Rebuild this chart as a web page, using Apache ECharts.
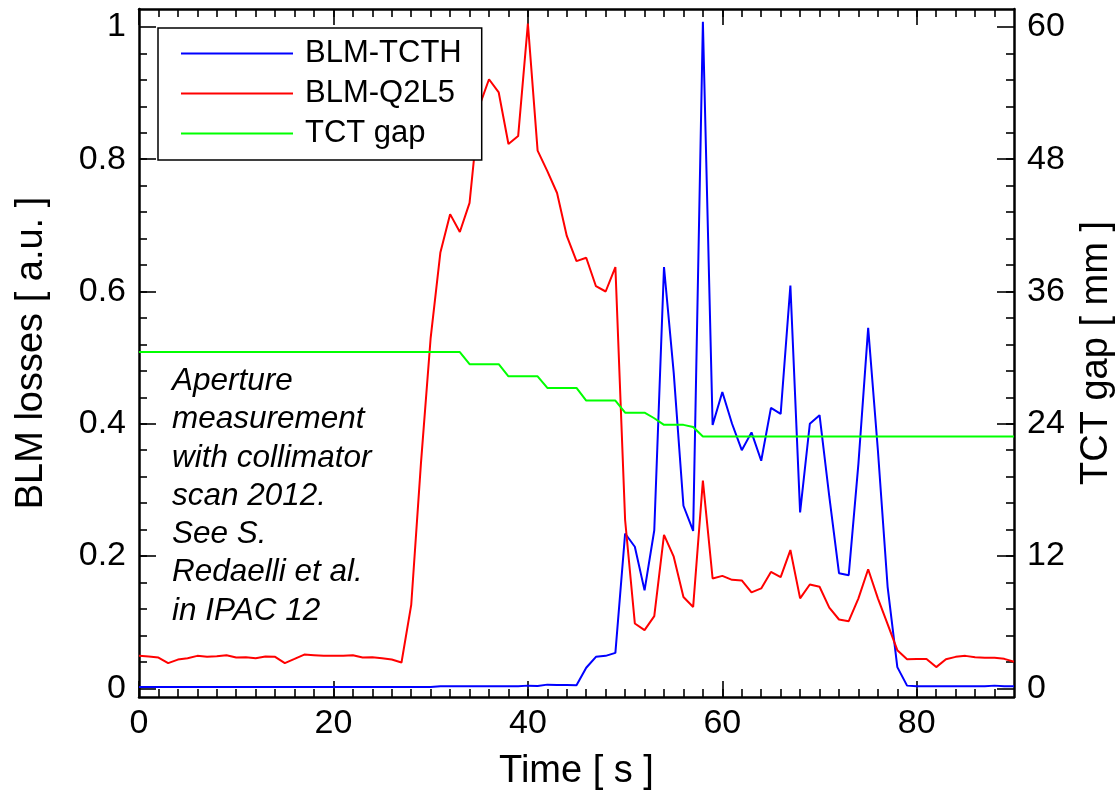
<!DOCTYPE html>
<html>
<head>
<meta charset="utf-8">
<script src="https://cdn.jsdelivr.net/npm/echarts@6/dist/echarts.min.js"></script>
<style>html,body{margin:0;padding:0;background:#fff;}#chart{width:1115px;height:800px;}</style>
</head>
<body>
<div id="chart"></div>
<script>
// Time [s]
const time = [0,1,2,3,4,5,6,7,8,9,10,11,12,13,14,15,16,17,18,19,20,21,22,23,24,25,26,27,28,29,30,31,32,33,34,35,36,37,38,39,40,41,42,43,44,45,46,47,48,49,50,51,52,53,54,55,56,57,58,59,60,61,62,63,64,65,66,67,68,69,70,71,72,73,74,75,76,77,78,79,80,81,82,83,84,85,86,87,88,89,90];
// BLM-TCTH losses [a.u.]
const blmTCTH = [0.002,0.002,0.002,0.002,0.002,0.002,0.002,0.002,0.002,0.002,0.002,0.002,0.002,0.002,0.002,0.002,0.002,0.002,0.002,0.002,0.002,0.002,0.002,0.002,0.002,0.002,0.002,0.002,0.002,0.002,0.002,0.003,0.003,0.003,0.003,0.003,0.003,0.003,0.003,0.003,0.004,0.0035,0.0055,0.005,0.005,0.0045,0.031,0.0475,0.049,0.0535,0.234,0.214,0.148,0.239,0.637,0.477,0.276,0.238,1.008,0.398,0.448,0.400,0.360,0.387,0.344,0.424,0.415,0.609,0.266,0.400,0.413,0.29,0.174,0.171,0.34,0.545,0.36,0.1535,0.032,0.004,0.003,0.003,0.003,0.003,0.003,0.003,0.003,0.003,0.004,0.003,0.003];
// BLM-Q2L5 losses [a.u.]
const blmQ2L5 = [0.049,0.048,0.0465,0.038,0.0434,0.0455,0.049,0.0475,0.0485,0.050,0.0465,0.047,0.0455,0.048,0.0475,0.038,0.0444,0.051,0.050,0.049,0.049,0.049,0.050,0.0465,0.047,0.0455,0.0434,0.039,0.126,0.34,0.53,0.659,0.717,0.690,0.734,0.88,0.921,0.901,0.823,0.835,1.005,0.813,0.782,0.749,0.684,0.646,0.651,0.608,0.600,0.637,0.2545,0.098,0.088,0.109,0.232,0.199,0.138,0.123,0.314,0.166,0.170,0.164,0.163,0.145,0.151,0.176,0.168,0.209,0.136,0.157,0.1535,0.122,0.104,0.1015,0.136,0.180,0.136,0.097,0.0576,0.044,0.0444,0.0444,0.032,0.044,0.0475,0.049,0.047,0.046,0.046,0.0445,0.040];
// TCT gap [mm]
const tctGap = [30.5,30.5,30.5,30.5,30.5,30.5,30.5,30.5,30.5,30.5,30.5,30.5,30.5,30.5,30.5,30.5,30.5,30.5,30.5,30.5,30.5,30.5,30.5,30.5,30.5,30.5,30.5,30.5,30.5,30.5,30.5,30.5,30.5,30.5,29.4,29.4,29.4,29.4,28.3,28.3,28.3,28.3,27.25,27.25,27.25,27.25,26.1,26.1,26.1,26.1,25.0,25.0,25.0,24.5,23.9,23.9,23.9,23.7,22.85,22.85,22.85,22.85,22.85,22.85,22.85,22.85,22.85,22.85,22.85,22.85,22.85,22.85,22.85,22.85,22.85,22.85,22.85,22.85,22.85,22.85,22.85,22.85,22.85,22.85,22.85,22.85,22.85,22.85,22.85,22.85,22.85];

const xMajorTicks = [0,20,40,60,80];
const yLeftMajorTicks = [0,0.2,0.4,0.6,0.8,1];
const yRightMajorTicks = [0,12,24,36,48,60];
const xMinorTicks = []; for (let i = 1; i < 45; i++) xMinorTicks.push(i*2);
const yLeftMinorTicks = []; for (let i = 1; i < 25; i++) yLeftMinorTicks.push(Math.round(i*4)/100);
const yRightMinorTicks = []; for (let i = 1; i < 25; i++) yRightMinorTicks.push(Math.round(i*24)/10);

const annotation = ['Aperture','measurement','with collimator','scan 2012.','See S.','Redaelli et al.','in IPAC 12'];

const FONT = '"Liberation Sans", Arial, Helvetica, sans-serif';
const yLMin = -0.0132, yLMax = 1.0272;
const yRMin = yLMin*60, yRMax = yLMax*60;

function pairs(y){ return time.map((t,i)=>[t,y[i]]); }

const lineAxis = {show:true, onZero:false, lineStyle:{color:'#000', width:2.5}};
const noLine = {show:false, onZero:false};
const labelStyle = {color:'#000', fontFamily:FONT, fontSize:34};
const nameStyle = {color:'#000', fontFamily:FONT, fontSize:38};

function xAx(pos, ticks, len, labels, line, extra){
  return Object.assign({type:'value', position:pos, min:0, max:90, gridIndex:0,
    axisLine: line ? lineAxis : noLine,
    axisTick:{show:true, inside:true, length:len, customValues:ticks, lineStyle:{color:'#000', width:1.6}},
    axisLabel: labels ? Object.assign({show:true, margin:10, customValues:ticks}, labelStyle) : {show:false},
    splitLine:{show:false}}, extra||{});
}
function yAx(pos, min, max, ticks, len, labels, line, extra){
  return Object.assign({type:'value', position:pos, min:min, max:max, gridIndex:0,
    axisLine: line ? lineAxis : noLine,
    axisTick:{show:true, inside:true, length:len, customValues:ticks, lineStyle:{color:'#000', width:1.6}},
    axisLabel: labels ? Object.assign({show:true, margin:13, customValues:ticks}, labelStyle) : {show:false},
    splitLine:{show:false}}, extra||{});
}

const chart = echarts.init(document.getElementById('chart'), null, {renderer:'canvas'});
chart.setOption({
  animation:false,
  backgroundColor:'#fff',
  grid:{left:139, right:101, top:9, bottom:103, containLabel:false, outerBoundsMode:'none'},
  xAxis:[
    xAx('bottom', xMajorTicks, 16, true, true, {name:'Time [ s ]', nameLocation:'middle', nameGap:56, nameTextStyle:nameStyle}),
    xAx('bottom', xMinorTicks, 8, false, false),
    xAx('top', xMajorTicks, 16, false, true),
    xAx('top', xMinorTicks, 8, false, false)
  ],
  yAxis:[
    yAx('left', yLMin, yLMax, yLeftMajorTicks, 17, true, true, {name:'BLM losses [ a.u. ]', nameLocation:'middle', nameGap:88, nameRotate:90, nameTextStyle:nameStyle}),
    yAx('left', yLMin, yLMax, yLeftMinorTicks, 8, false, false),
    yAx('right', yRMin, yRMax, yRightMajorTicks, 17, true, true, {name:'TCT gap [ mm ]', nameLocation:'middle', nameGap:64, nameRotate:90, nameTextStyle:nameStyle}),
    yAx('right', yRMin, yRMax, yRightMinorTicks, 8, false, false)
  ],
  legend:{
    show:true, orient:'vertical', left:158, top:28,
    data:['BLM-TCTH','BLM-Q2L5','TCT gap'],
    icon:'rect', itemWidth:112, itemHeight:2, itemGap:9,
    padding:[10,20,11,23],
    backgroundColor:'#fff', borderColor:'#000', borderWidth:1.5, borderRadius:0,
    textStyle:{color:'#000', fontFamily:FONT, fontSize:31, padding:[0,0,0,7]}
  },
  graphic:[{
    type:'text', left:172, top:362, z:100,
    style:{text:annotation.join('\n'), font:'italic 31.5px ' + FONT, lineHeight:38.3, fill:'#000'}
  }],
  series:[
    {name:'BLM-TCTH', type:'line', xAxisIndex:0, yAxisIndex:0, data:pairs(blmTCTH), showSymbol:false, symbol:'none', lineStyle:{color:'#0000ff', width:2}, itemStyle:{color:'#0000ff'}},
    {name:'BLM-Q2L5', type:'line', xAxisIndex:0, yAxisIndex:0, data:pairs(blmQ2L5), showSymbol:false, symbol:'none', lineStyle:{color:'#ff0000', width:2}, itemStyle:{color:'#ff0000'}},
    {name:'TCT gap', type:'line', xAxisIndex:0, yAxisIndex:2, data:pairs(tctGap), showSymbol:false, symbol:'none', lineStyle:{color:'#00ff00', width:2}, itemStyle:{color:'#00ff00'}}
  ]
});
</script>
</body>
</html>
